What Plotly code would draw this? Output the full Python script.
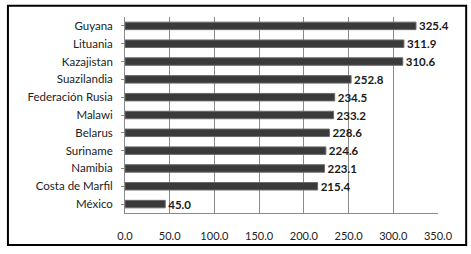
import plotly.graph_objects as go

countries = ["Guyana", "Lituania", "Kazajistan", "Suazilandia", "Federación Rusia",
             "Malawi", "Belarus", "Suriname", "Namibia", "Costa de Marfil", "México"]
values = [325.4, 311.9, 310.6, 252.8, 234.5, 233.2, 228.6, 224.6, 223.1, 215.4, 45.0]
tick_vals = [0, 50, 100, 150, 200, 250, 300, 350]
tick_text = ["0.0", "50.0", "100.0", "150.0", "200.0", "250.0", "300.0", "350.0"]

fig = go.Figure()
fig.add_trace(go.Bar(
    x=values, y=countries, orientation="h",
    width=0.42,
    marker=dict(color="#3a3a3a", line=dict(color="#6a6a6a", width=1)),
    text=[f"{v:.1f}" for v in values],
    textposition="outside",
    constraintext="none",
    textfont=dict(family="Lato", size=11.5, color="#1a1a1a", weight="bold"),
    cliponaxis=False,
    hoverinfo="skip",
))

fig.update_layout(
    width=471, height=254,
    margin=dict(l=125, r=33, t=17, b=37),
    paper_bgcolor="white", plot_bgcolor="white",
    showlegend=False,
    hovermode=False,
    font=dict(family="Lato", size=11.5, color="#222222"),
    xaxis=dict(
        range=[0, 350], tickvals=tick_vals, ticktext=tick_text,
        showgrid=True, gridcolor="#8a8a8a", gridwidth=1,
        zeroline=False, showline=True, linecolor="#8a8a8a",
        ticks="", ticklabelstandoff=13,
        tickfont=dict(family="Lato", size=11, color="#222222"),
    ),
    yaxis=dict(
        autorange="reversed",
        showline=True, linecolor="#8a8a8a", linewidth=1,
        ticks="outside", ticklen=3, tickcolor="#8a8a8a",
        showgrid=False, ticksuffix="  ",
        tickfont=dict(family="Lato", size=11.5, color="#222222"),
    ),
    shapes=[dict(type="rect", xref="paper", yref="paper",
                 x0=-0.374, x1=1.09, y0=-0.163, y1=1.058,
                 line=dict(color="black", width=2))],
)

fig.write_html("out.html", config={"displayModeBar": False, "staticPlot": True},
               post_script="document.body.style.margin='0';")
